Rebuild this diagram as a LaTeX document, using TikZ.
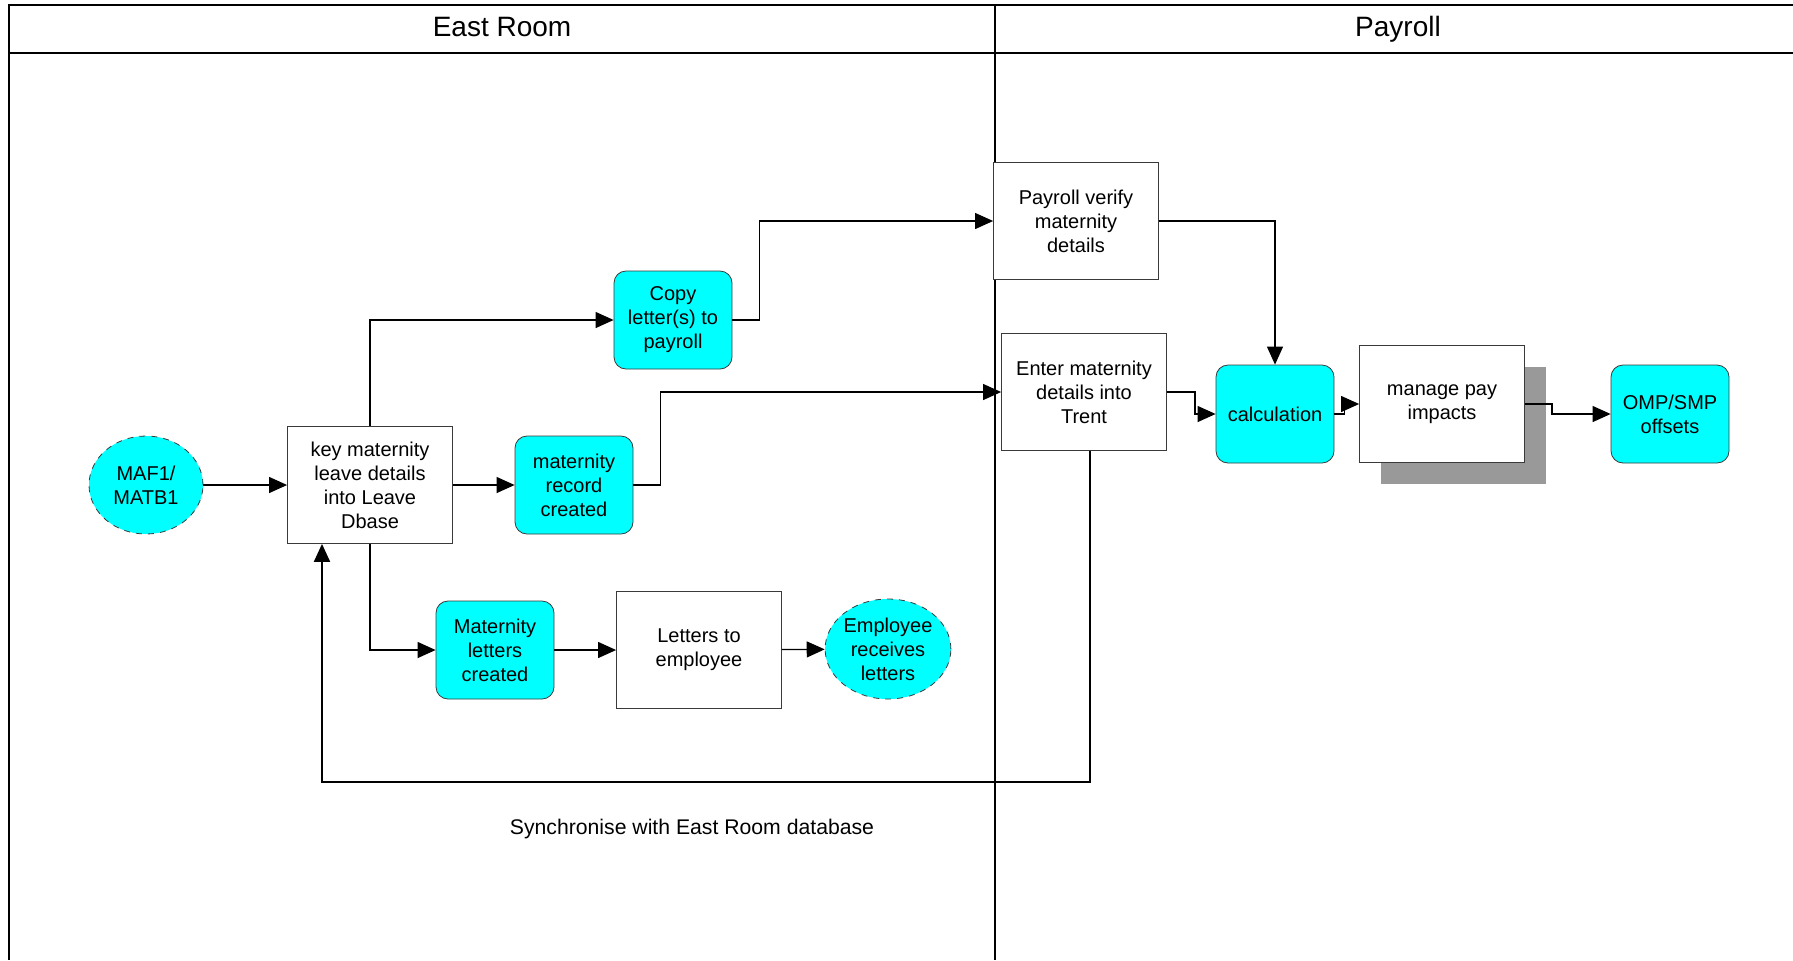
\documentclass[tikz,border=0pt]{standalone}
\usepackage{fontspec}
\setmainfont{Liberation Sans}
\usepackage{tikz,xcolor}
\usetikzlibrary{arrows.meta,shapes.geometric,shadows,calc}

\definecolor{boxcyan}{HTML}{00FFFF}
\definecolor{boxline}{HTML}{3A3A3A}
\definecolor{shadowgray}{HTML}{999999}

\begin{document}
\begin{tikzpicture}[x=0.5pt,y=-0.5pt,
    every node/.style={font=\fontsize{10}{12}\selectfont,align=center,inner sep=0pt},
    task/.style={draw=boxline,fill=white,minimum width=82.5pt,minimum height=58.5pt},
    item/.style={draw=boxline,fill=boxcyan,rounded corners=6pt,minimum width=59pt,minimum height=49pt},
    terminal/.style={ellipse,draw=boxline,dashed,fill=boxcyan,minimum width=57pt,minimum height=49pt},
    flow/.style={draw=black,line width=0.6pt,-{Triangle[length=9pt,width=8pt]}},
    lane/.style={draw=black,line width=1pt},
    lanetitle/.style={font=\fontsize{14}{16}\selectfont,anchor=base}]
  \useasboundingbox (0,0) rectangle (1793,960);
  % swimlane frame
  \draw[lane] (9,960) -- (9,5) -- (1795,5);
  \draw[lane] (9,53) -- (1795,53);
  \draw[lane] (995,5) -- (995,960);
  \node[lanetitle] (east) at (502,36) {East Room};
  \node[lanetitle] (pay) at (1398,36) {Payroll};

  % East Room
  \node[terminal] (maf) at (146,485) {MAF1/\\MATB1};
  \node[task] (key) at (370,485) {key maternity\\leave details\\into Leave\\Dbase};
  \node[item] (rec) at (574,485) {maternity\\record\\created};
  \node[item] (copy) at (673,320) {Copy\\letter(s) to\\payroll};
  \node[item] (mlet) at (495,650) {Maternity\\letters\\created};
  \node[task] (lemp) at (699,650) {Letters to\\employee};
  \node[terminal,minimum width=59pt,minimum height=50pt] (erec) at (888,649) {Employee\\receives\\letters};
  \node[font=\fontsize{10.6}{12}\selectfont] (sync) at (692,829) {Synchronise with East Room database};

  % Payroll
  \node[task] (verify) at (1076,221) {Payroll verify\\maternity\\details};
  \node[task] (enter) at (1084,392) {Enter maternity\\details into\\Trent};
  \node[item] (calc) at (1275,414) {calculation};
  \node[task,copy shadow={fill=shadowgray,draw=none,shadow xshift=10.5pt,shadow yshift=-10.5pt}] (manage) at (1442,404) {manage pay\\impacts};
  \node[item] (omp) at (1670,414) {OMP/SMP\\offsets};

  % connectors
  \draw[flow] (maf) -- (key);
  \draw[flow] (key) -- (rec);
  \draw[flow] (key.north) |- (copy.west);
  \draw[flow] (copy.east) -- ++(27,0) |- (verify.west);
  \draw[flow] (rec.east) -- ++(27,0) |- (enter.west);
  \draw[flow] (key.south) |- (mlet.west);
  \draw[flow] (mlet) -- (lemp);
  \draw[flow] (lemp) -- (erec);
  \draw[flow] (verify.east) -| (calc.north);
  \draw[flow] (enter.east) -- ++(28,0) |- (calc.west);
  \draw[flow] (calc.east) -- ++(10,0) |- (manage.west);
  \draw[flow] (manage.east) -- ++(27,0) |- (omp.west);
  \draw[flow,line width=1pt] ([xshift=3pt]enter.south) -- ++(0,331) -| ([xshift=-24pt]key.south);
\end{tikzpicture}
\end{document}
